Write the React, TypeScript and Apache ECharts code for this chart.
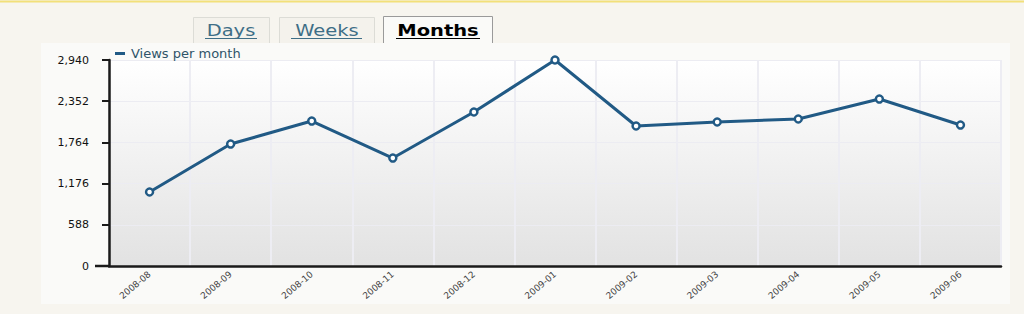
import React, { useEffect, useRef } from "react";
import * as echarts from "echarts";

const categories = [
  "2008-08", "2008-09", "2008-10", "2008-11", "2008-12", "2009-01",
  "2009-02", "2009-03", "2009-04", "2009-05", "2009-06",
];
const viewsPerMonth = [1056, 1741, 2069, 1541, 2198, 2940, 1998, 2055, 2098, 2383, 2012];
const yTicks = [0, 588, 1176, 1764, 2352, 2940];
const tabLabels = ["Days", "Weeks", "Months"];
const seriesName = "Views per month";

const fmt = (v: number) => v.toLocaleString("en-US");

export default function App() {
  const ref = useRef<HTMLDivElement>(null);
  useEffect(() => {
    document.body.style.margin = "0";
    const chart = echarts.init(ref.current!, undefined, { renderer: "svg" });
    const tabs = [
      { x: 193, w: 77, tx: 231, ul: [205, 257], active: false },
      { x: 279, w: 96, tx: 327, ul: [291, 362], active: false },
      { x: 383, w: 110, tx: 438, ul: [396, 480], active: true },
    ];
    const tabGraphics: any[] = [];
    tabs.forEach((t, i) => {
      const top = t.active ? 16 : 17;
      tabGraphics.push({
        type: "rect",
        z: 1,
        shape: { x: t.x, y: top, width: t.w, height: 43 - top },
        style: { fill: t.active ? "#fafaf8" : "#f4f2ec", stroke: "none" },
      });
      tabGraphics.push({
        type: "polyline",
        z: 2,
        shape: { points: [[t.x + 0.5, 43], [t.x + 0.5, top + 0.5], [t.x + t.w - 0.5, top + 0.5], [t.x + t.w - 0.5, 43]] },
        style: { stroke: t.active ? "#9a9a9a" : "#dcdcd6", lineWidth: 1, fill: "none" },
      });
      tabGraphics.push({
        type: "text",
        z: 3,
        x: t.tx,
        y: 31,
        scaleX: 1.3,
        style: {
          text: tabLabels[i],
          fill: t.active ? "#000000" : "#3e6e86",
          font: (t.active ? "bold " : "") + "15px 'DejaVu Sans'",
          align: "center",
          verticalAlign: "middle",
        },
      });
      tabGraphics.push({
        type: "line",
        z: 3,
        shape: { x1: t.ul[0], y1: 38.5, x2: t.ul[1], y2: 38.5 },
        style: { stroke: t.active ? "#000000" : "#3e6e86", lineWidth: 1 },
      });
    });

    chart.setOption({
      animation: false,
      backgroundColor: "#f7f5ef",
      textStyle: { fontFamily: "'DejaVu Sans'" },
      graphic: [
        {
          type: "line",
          z: -5,
          shape: { x1: 0, y1: 1.5, x2: 1024, y2: 1.5 },
          style: { stroke: "#f2e07a", lineWidth: 2 },
        },
        {
          type: "rect",
          z: -5,
          shape: { x: 41, y: 43, width: 969, height: 261 },
          style: { fill: "#fafaf8" },
        },
        {
          type: "line",
          z: 5,
          shape: { x1: 95, y1: 266, x2: 109, y2: 266 },
          style: { stroke: "#1a1a1a", lineWidth: 2.5 },
        },
        ...tabGraphics,
      ],
      legend: {
        left: 110,
        top: 42,
        icon: "rect",
        itemWidth: 10,
        itemHeight: 3,
        itemGap: 6,
        itemStyle: { color: "#215a85", borderWidth: 0 },
        textStyle: { color: "#2f5468", fontSize: 13, fontFamily: "'DejaVu Sans'", padding: [0, 0, 0, 1] },
        data: [seriesName],
      },
      grid: {
        left: 109,
        right: 23,
        top: 60,
        bottom: 48,
        show: true,
        borderWidth: 0,
        backgroundColor: new echarts.graphic.LinearGradient(0, 0, 0, 1, [
          { offset: 0, color: "#ffffff" },
          { offset: 1, color: "#e2e2e2" },
        ]),
      },
      xAxis: {
        type: "category",
        data: categories,
        boundaryGap: true,
        axisLine: { lineStyle: { color: "#1a1a1a", width: 2.5 } },
        axisTick: { alignWithLabel: true, length: 5, lineStyle: { color: "#1a1a1a", width: 3 } },
        axisLabel: { rotate: 40, fontSize: 9, color: "#444", margin: 7 },
        splitLine: { show: true, lineStyle: { color: "#ededf3", width: 2 } },
      },
      yAxis: {
        type: "value",
        min: 0,
        max: 2940,
        interval: 588,
        axisLine: { show: true, lineStyle: { color: "#1a1a1a", width: 2.5 } },
        axisTick: { show: true, length: 7, lineStyle: { color: "#1a1a1a", width: 2 } },
        axisLabel: { fontSize: 11, color: "#111", margin: 20, formatter: (v: number) => (yTicks.includes(v) ? fmt(v) : "") },
        splitLine: { show: true, lineStyle: { color: "#ececf2", width: 1 } },
      },
      series: [
        {
          name: seriesName,
          type: "line",
          data: viewsPerMonth,
          symbol: "circle",
          symbolSize: 7,
          lineStyle: { color: "#215a85", width: 3 },
          itemStyle: { color: "#ffffff", borderColor: "#215a85", borderWidth: 2.5 },
          z: 10,
        },
      ],
    });
    return () => chart.dispose();
  }, []);
  return <div ref={ref} style={{ width: 1024, height: 314 }} />;
}
